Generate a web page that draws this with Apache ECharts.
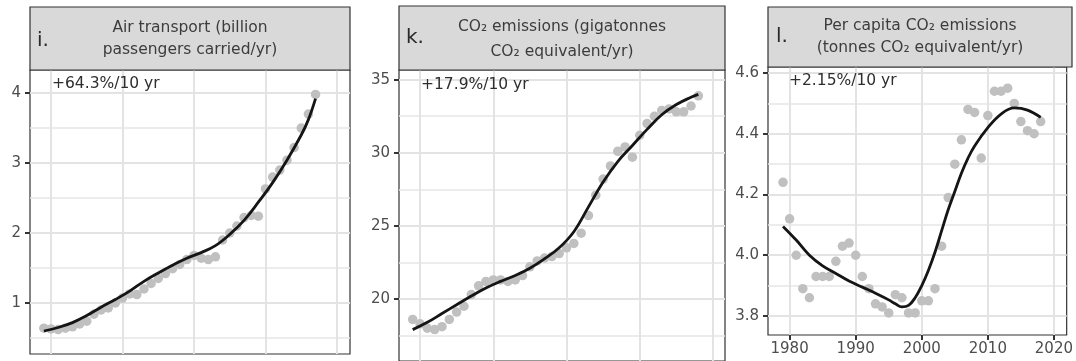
<!DOCTYPE html>
<html><head><meta charset="utf-8">
<script src="https://cdn.jsdelivr.net/npm/echarts@6/dist/echarts.min.js"></script>
<style>html,body{margin:0;padding:0;background:#fff}#c{width:1076px;height:361px}</style>
</head><body><div id="c"></div>
<script>
// ---------- data ----------
const airYears = [1979,1980,1981,1982,1983,1984,1985,1986,1987,1988,1989,1990,1991,1992,1993,1994,1995,1996,1997,1998,1999,2000,2001,2002,2003,2004,2005,2006,2007,2008,2009,2010,2011,2012,2013,2014,2015,2016,2017];
const airValues = [0.64,0.63,0.62,0.64,0.66,0.70,0.74,0.84,0.90,0.93,1.00,1.07,1.13,1.12,1.20,1.28,1.35,1.42,1.49,1.55,1.62,1.68,1.64,1.62,1.66,1.90,2.00,2.10,2.22,2.25,2.24,2.63,2.80,2.90,3.04,3.22,3.50,3.70,3.98];
const airFitYears = [1979,1981,1983,1985,1987,1989,1991,1993,1995,1997,1999,2001,2003,2005,2007,2009,2011,2013,2015,2016,2017];
const airFitValues = [0.60,0.65,0.72,0.82,0.94,1.05,1.17,1.31,1.43,1.54,1.64,1.72,1.82,1.98,2.18,2.44,2.72,3.04,3.40,3.62,3.92];

const co2Years = [1979,1980,1981,1982,1983,1984,1985,1986,1987,1988,1989,1990,1991,1992,1993,1994,1995,1996,1997,1998,1999,2000,2001,2002,2003,2004,2005,2006,2007,2008,2009,2010,2011,2012,2013,2014,2015,2016,2017,2018];
const co2Values = [18.6,18.3,18.0,17.9,18.1,18.6,19.1,19.5,20.3,20.9,21.2,21.3,21.3,21.2,21.3,21.6,22.2,22.6,22.8,22.9,23.1,23.5,23.8,24.5,25.7,27.1,28.2,29.1,30.1,30.4,29.7,31.2,32.0,32.5,32.9,33.0,32.8,32.8,33.2,33.9];
const co2FitYears = [1979,1981,1983,1985,1987,1989,1991,1993,1995,1997,1999,2001,2003,2005,2007,2009,2011,2013,2015,2017,2018];
const co2FitValues = [17.9,18.4,19.0,19.6,20.2,20.75,21.2,21.6,22.1,22.75,23.5,24.6,26.3,28.0,29.4,30.5,31.6,32.6,33.3,33.8,34.0];

const pcYears = [1979,1980,1981,1982,1983,1984,1985,1986,1987,1988,1989,1990,1991,1992,1993,1994,1995,1996,1997,1998,1999,2000,2001,2002,2003,2004,2005,2006,2007,2008,2009,2010,2011,2012,2013,2014,2015,2016,2017,2018];
const pcValues = [4.24,4.12,4.00,3.89,3.86,3.93,3.93,3.93,3.98,4.03,4.04,4.00,3.93,3.89,3.84,3.83,3.81,3.87,3.86,3.81,3.81,3.85,3.85,3.89,4.03,4.19,4.30,4.38,4.48,4.47,4.32,4.46,4.54,4.54,4.55,4.50,4.44,4.41,4.40,4.44];
const pcFitYears = [1979,1981,1983,1985,1987,1989,1991,1993,1995,1996,1997,1998,1999,2000,2001,2002,2003,2004,2005,2006,2007,2008,2010,2012,2014,2016,2018];
const pcFitValues = [4.095,4.05,4.00,3.965,3.94,3.915,3.895,3.875,3.853,3.84,3.83,3.835,3.86,3.90,3.95,4.01,4.08,4.15,4.21,4.27,4.32,4.36,4.42,4.465,4.485,4.478,4.454];

const decadeTicks = [1980,1990,2000,2010,2020];
const airTicks = [1,2,3,4];
const airMinor = [0.5,1.5,2.5,3.5];
const co2Ticks = [20,25,30,35];
const co2Minor = [17.5,22.5,27.5,32.5];
const pcTicks = [3.8,4.0,4.2,4.4,4.6];
const pcMinor = [3.9,4.1,4.3,4.5];

const panelLetters = ['i.','k.','l.'];
const panelTitles = [
  ['Air transport (billion','passengers carried/yr)'],
  ['CO\u2082 emissions (gigatonnes','CO\u2082 equivalent/yr)'],
  ['Per capita CO\u2082 emissions','(tonnes CO\u2082 equivalent/yr)']
];
const trendTexts = ['+64.3%/10 yr','+17.9%/10 yr','+2.15%/10 yr'];

// ---------- layout ----------
const FONT = '"DejaVu Sans", "Liberation Sans", sans-serif';
const panels = [
  {grid:{left:30, top:70, width:320, height:284}, xr:[1977.06,2021.82], yr:[0.2714,4.329],
   ticks:airTicks, minor:airMinor, fmt:v=>String(v), showX:false,
   head:{x:30,y:7,w:320,h:63}, t1y:27.5, t2y:50, lab:{x:37,y:40.5}, trend:{x:52,y:84}},
  {grid:{left:399, top:70, width:326, height:300}, xr:[1977.13,2021.64], yr:[15.753,35.664],
   ticks:co2Ticks, minor:co2Minor, fmt:v=>String(v), showX:false,
   head:{x:399,y:6,w:326,h:64}, t1y:27, t2y:52, lab:{x:406,y:38}, trend:{x:421,y:85}},
  {grid:{left:768, top:67, width:304, height:268}, xr:[1976.73,2021.93], yr:[3.7374,4.6198],
   ticks:pcTicks, minor:pcMinor, fmt:v=>v.toFixed(1), showX:true,
   head:{x:768,y:7,w:304,h:60}, t1y:25.5, t2y:47.5, lab:{x:776,y:37}, trend:{x:789,y:81}}
];

const grids = [], xAxes = [], yAxes = [], series = [], graphics = [];
const seriesData = [
  [airYears, airValues, airFitYears, airFitValues],
  [co2Years, co2Values, co2FitYears, co2FitValues],
  [pcYears, pcValues, pcFitYears, pcFitValues]
];

panels.forEach((p, i) => {
  grids.push(Object.assign({show:true, borderColor:'#333', borderWidth:1.2, backgroundColor:'#fff', containLabel:false}, p.grid));
  xAxes.push({
    type:'value', gridIndex:i, min:p.xr[0], max:p.xr[1],
    axisLine:{show:false},
    axisTick:{show:p.showX, customValues:decadeTicks, length:5, lineStyle:{color:'#333', width:2}},
    axisLabel:{show:p.showX, customValues:decadeTicks, margin:7, color:'#4d4d4d', fontSize:15, fontFamily:FONT,
               formatter:v=>String(Math.round(v))},
    splitLine:{show:true, lineStyle:{color:'#e3e3e3', width:2}}
  });
  yAxes.push({
    type:'value', gridIndex:i, min:p.yr[0], max:p.yr[1], position:'left',
    axisLine:{show:false},
    axisTick:{show:true, customValues:p.ticks, length:5, lineStyle:{color:'#333', width:2}},
    axisLabel:{show:true, customValues:p.ticks, margin:9, color:'#4d4d4d', fontSize:15, fontFamily:FONT, formatter:p.fmt},
    splitLine:{show:true, lineStyle:{color:'#e3e3e3', width:2}}
  });
  yAxes.push({
    type:'value', gridIndex:i, min:p.yr[0], max:p.yr[1], position:'left',
    axisLine:{show:false},
    axisTick:{show:false, customValues:p.minor},
    axisLabel:{show:false, customValues:p.minor},
    splitLine:{show:true, lineStyle:{color:'#e6e6e6', width:1.6}}
  });
  const [xs, ys, fx, fy] = seriesData[i];
  series.push({
    type:'scatter', xAxisIndex:i, yAxisIndex:2*i, symbolSize:9.5,
    itemStyle:{color:'#c0c0c0', opacity:1}, silent:true, z:2,
    data: xs.map((x, k) => [x, ys[k]])
  });
  series.push({
    type:'line', xAxisIndex:i, yAxisIndex:2*i, showSymbol:false, smooth:0.4,
    lineStyle:{color:'#151515', width:2.8}, silent:true, z:3,
    data: fx.map((x, k) => [x, fy[k]])
  });
  // header strip
  graphics.push({type:'rect', shape:{x:p.head.x, y:p.head.y, width:p.head.w, height:p.head.h},
    style:{fill:'#d9d9d9', stroke:'#333', lineWidth:1.2}, z:10});
  const cx = p.head.x + p.head.w/2;
  graphics.push({type:'text', z:11, style:{text:panelTitles[i][0], x:cx, y:p.t1y, fill:'#3c3c3c',
    font:'15.5px ' + FONT, textAlign:'center', textVerticalAlign:'middle', verticalAlign:'middle'}});
  graphics.push({type:'text', z:11, style:{text:panelTitles[i][1], x:cx, y:p.t2y, fill:'#3c3c3c',
    font:'15.5px ' + FONT, textAlign:'center', textVerticalAlign:'middle', verticalAlign:'middle'}});
  graphics.push({type:'text', z:11, style:{text:panelLetters[i], x:p.lab.x, y:p.lab.y, fill:'#2a2a2a',
    font:'20px ' + FONT, textAlign:'left', textVerticalAlign:'middle', verticalAlign:'middle'}});
  graphics.push({type:'text', z:11, style:{text:trendTexts[i], x:p.trend.x, y:p.trend.y, fill:'#2e2e2e',
    font:'15.5px ' + FONT, textAlign:'left', textVerticalAlign:'middle', verticalAlign:'middle'}});
});

const chart = echarts.init(document.getElementById('c'), null, {renderer:'canvas'});
chart.setOption({
  animation:false,
  backgroundColor:'#fff',
  grid:grids, xAxis:xAxes, yAxis:yAxes, series:series, graphic:graphics
});
</script></body></html>
